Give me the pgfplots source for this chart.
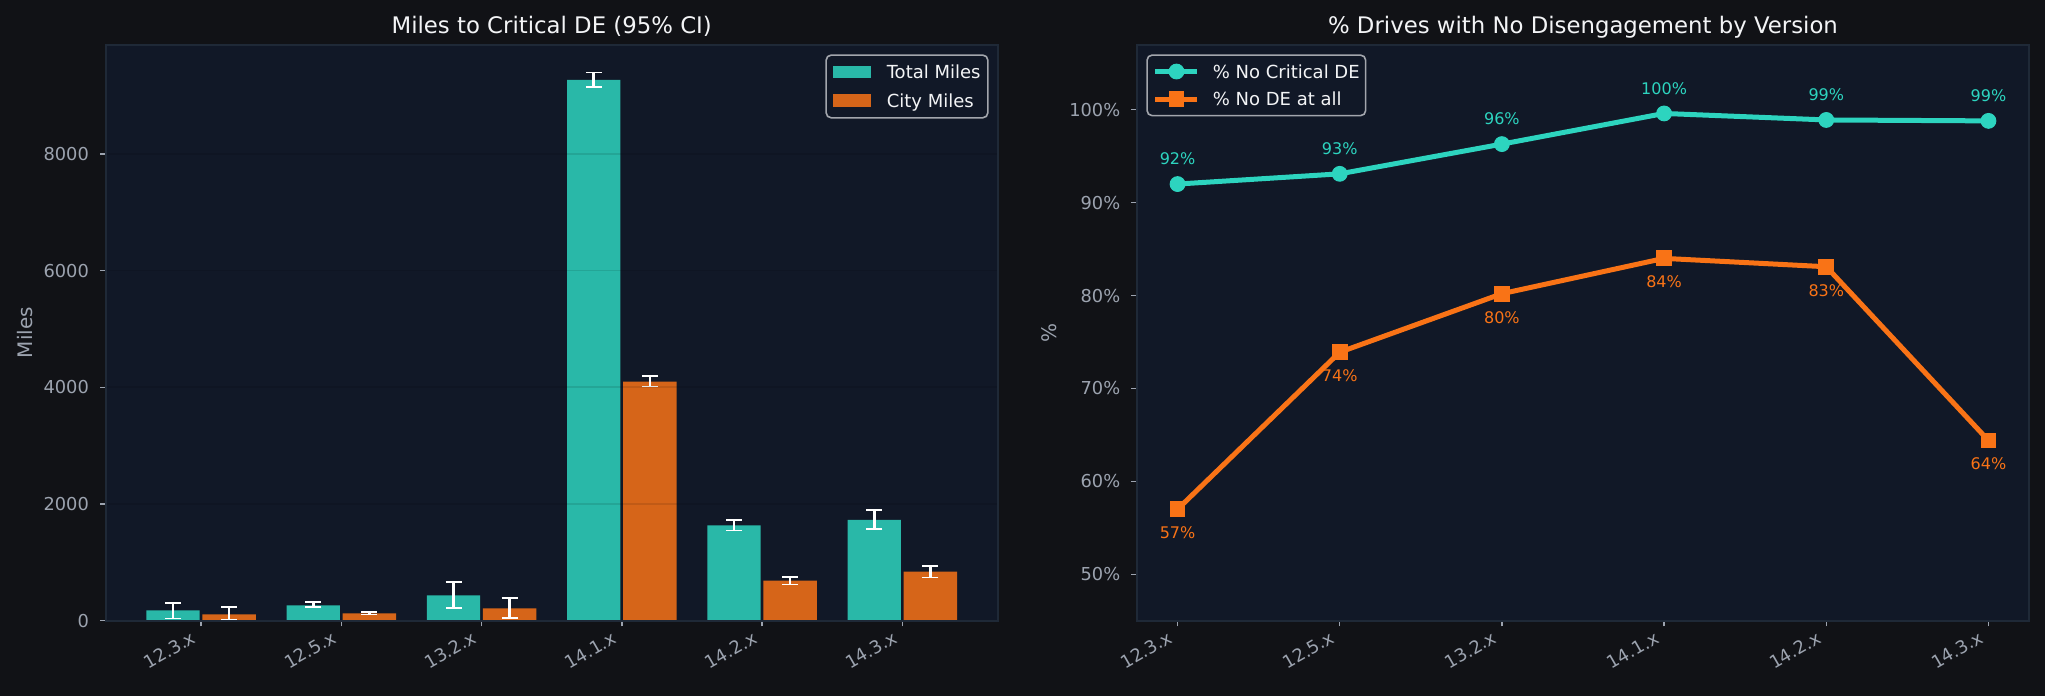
\documentclass[border=0pt]{standalone}
\usepackage{fontspec}
\setmainfont{DejaVu Sans}
\usepackage{pgfplots}
\usepackage{pgfplotstable}
\pgfplotsset{compat=1.18}

\definecolor{figbg}{HTML}{111216}
\definecolor{axbg}{HTML}{111827}
\definecolor{spinec}{HTML}{1F2937}
\definecolor{tickc}{HTML}{9CA3AF}
\definecolor{titlec}{HTML}{F3F4F6}
\definecolor{legc}{HTML}{A3A6AD}
\definecolor{barTeal}{HTML}{29B8A8}
\definecolor{barOrange}{HTML}{D66519}
\definecolor{lineTeal}{HTML}{2DD4BF}
\definecolor{lineOrange}{HTML}{F97316}

% miles to critical disengagement, with asymmetric 95% CI
\pgfplotstableread{
idx total tplus tminus city cplus cminus
0 177 125 137 108 126 97
1 262 60 31 126 20 20
2 434 228 217 211 177 165
3 9266 128 120 4097 91 86
4 1632 91 86 685 68 63
5 1729 171 154 839 103 97
}\miles

% share of drives without disengagement (percent)
\pgfplotstableread{
idx nocrit noany
0 92.0 57.0
1 93.1 73.9
2 96.3 80.2
3 99.6 84.0
4 98.9 83.1
5 98.8 64.4
}\drives

\pgfplotsset{
  darkpanel/.style={
    scale only axis, width=446pt, height=288pt,
    axis background/.style={fill=axbg},
    axis line style={spinec, line width=1pt},
    tick align=outside, major tick length=2.8pt,
    tick style={tickc, line width=0.7pt},
    xtick pos=left, ytick pos=left,
    xtick={0,...,5},
    xticklabels={12.3.x,12.5.x,13.2.x,14.1.x,14.2.x,14.3.x},
    ticklabel style={text=tickc, font=\fontsize{8.9}{10.7}\selectfont},
    xticklabel style={inner sep=0pt, xshift=-1.65pt, yshift=-7.9pt, rotate=30, anchor=south east},
    yticklabel style={inner sep=0pt, anchor=east, xshift=-5.4pt},
    /pgf/number format/assume math mode=true,
    /pgf/number format/set thousands separator={},
    title style={text=titlec, font=\fontsize{11.4}{13.7}\selectfont, at={(0.5,1)}, anchor=base, yshift=-0.3pt},
    ylabel style={text=tickc, font=\fontsize{10}{12}\selectfont, anchor=center},
    legend cell align=left,
    legend style={draw=legc, line width=0.8pt, rounded corners=2.5pt, fill=axbg,
      text=titlec, font=\fontsize{9}{10.8}\selectfont,
      nodes={inner xsep=0pt, inner ysep=0pt, text height=6.6pt, text depth=0pt}},
  },
  ciBars/.style={
    error bars/.cd, y dir=both, y explicit,
    error bar style={draw=white, line width=1.35pt},
    error mark options={draw=white, line width=0.85pt, mark size=4pt, rotate=90}},
}

\begin{document}
\begin{tikzpicture}
\fill[figbg] (0,0) rectangle (1022.5pt,348pt);

% left panel: bars with error bars
\begin{axis}[darkpanel, at={(52.85pt,37.65pt)}, anchor=south west,
  title={Miles to Critical DE (95\% CI)},
  ylabel={Miles},
  ylabel style={at={(axis description cs:-0.0908,0.5)}},
  xmin=-0.68, xmax=5.68, ymin=0, ymax=9870,
  ytick={0,2000,4000,6000,8000},
  ymajorgrids, major grid style={draw=black, draw opacity=0.1, line width=0.8pt},
  axis on top,
  legend style={at={(0.9898,0.9833)}, anchor=north east,
    inner xsep=3.65pt, inner ysep=5.2pt, row sep=7.75pt, column sep=7.65pt},
  legend entries={Total Miles, City Miles},
]
\addplot[ybar, bar width=0.38, bar shift=0pt, fill=barTeal, draw=none,
  legend image code/.code={\fill[sharp corners] (0pt,-3.175pt) rectangle (19pt,3.175pt);},
  ciBars]
  table[x expr=\thisrow{idx}-0.2, y=total, y error plus=tplus, y error minus=tminus]{\miles};
\addplot[ybar, bar width=0.38, bar shift=0pt, fill=barOrange, draw=none,
  legend image code/.code={\fill[sharp corners] (0pt,-3.175pt) rectangle (19pt,3.175pt);},
  ciBars]
  table[x expr=\thisrow{idx}+0.2, y=city, y error plus=cplus, y error minus=cminus]{\miles};
\end{axis}

% right panel: percentage lines
\begin{axis}[darkpanel, at={(568.5pt,37.65pt)}, anchor=south west,
  title={\% Drives with No Disengagement by Version},
  ylabel={\%},
  ylabel style={at={(axis description cs:-0.0985,0.5)}},
  xmin=-0.25, xmax=5.25, ymin=45, ymax=107,
  ytick={50,60,70,80,90,100},
  yticklabels={50\%,60\%,70\%,80\%,90\%,100\%},
  legend style={at={(0.0104,0.9833)}, anchor=north west,
    inner xsep=2.95pt, inner ysep=4.5pt, row sep=6.45pt, column sep=6.4pt},
  legend image code/.code={\draw[mark repeat=2, mark phase=2] plot coordinates {(0pt,0pt) (10.5pt,0pt) (21pt,0pt)};},
  legend entries={\% No Critical DE, \% No DE at all},
]
\addplot[lineTeal, line width=2.5pt, mark=*, mark size=3.7pt,
  mark options={line width=0.5pt, fill=lineTeal},
  point meta=y,
  nodes near coords={\pgfmathprintnumber[fixed,precision=0]{\pgfplotspointmeta}\%},
  every node near coord/.style={anchor=center, yshift=12.5pt, text=lineTeal, font=\fontsize{8}{9.6}\selectfont}]
  table[x=idx, y=nocrit]{\drives};
\addplot[lineOrange, line width=2.5pt, mark=square*, mark size=3.7pt,
  mark options={line width=0.5pt, fill=lineOrange},
  point meta=y,
  nodes near coords={\pgfmathprintnumber[fixed,precision=0]{\pgfplotspointmeta}\%},
  every node near coord/.style={anchor=center, yshift=-11.8pt, text=lineOrange, font=\fontsize{8}{9.6}\selectfont}]
  table[x=idx, y=noany]{\drives};
\end{axis}

\pgfresetboundingbox
\useasboundingbox (0,0) rectangle (1022.5pt,348pt);
\end{tikzpicture}
\end{document}
